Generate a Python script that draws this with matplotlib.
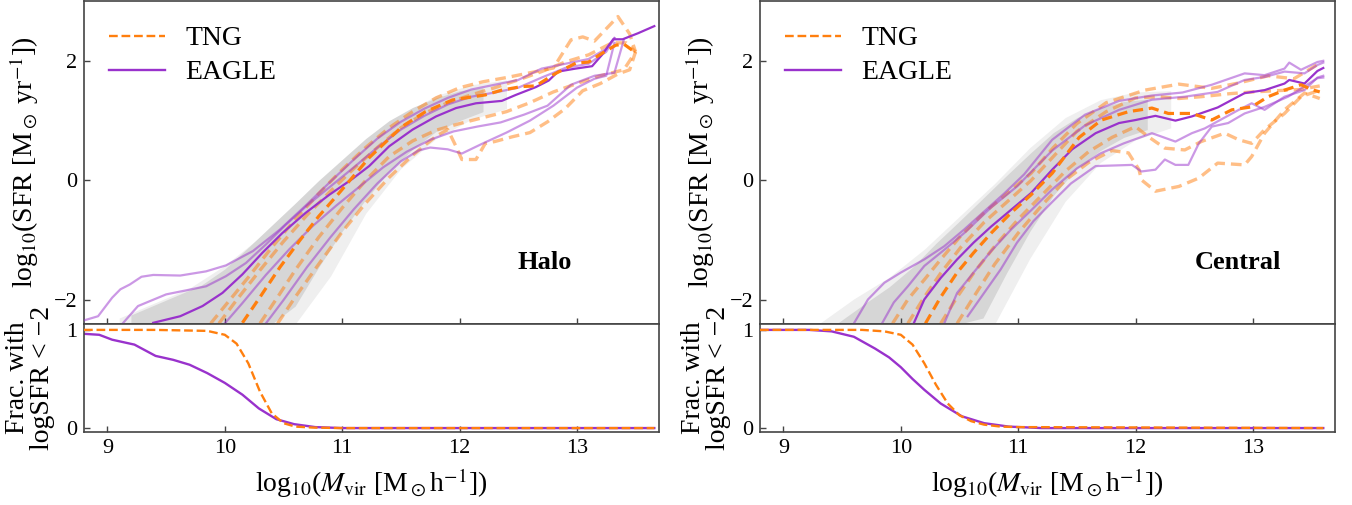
import matplotlib
matplotlib.use("Agg")
import matplotlib.pyplot as plt
from matplotlib.lines import Line2D

plt.rcParams["font.family"] = ["Liberation Serif", "DejaVu Serif"]
plt.rcParams["mathtext.fontset"] = "stix"

# ---------------- Halo panel ----------------
halo_eagle_med_x = [9.39, 9.62, 9.81, 9.98, 10.15, 10.32, 10.49, 10.69, 10.89, 11.09, 11.23, 11.40, 11.60, 11.80, 11.97, 12.14, 12.36, 12.48, 12.65, 12.76, 12.84, 12.99, 13.13, 13.21, 13.31, 13.39, 13.52, 13.66]
halo_eagle_med_y = [-2.38, -2.27, -2.10, -1.88, -1.57, -1.21, -0.88, -0.54, -0.24, 0.03, 0.24, 0.57, 0.85, 1.07, 1.21, 1.29, 1.33, 1.43, 1.56, 1.67, 1.82, 1.87, 1.91, 2.09, 2.36, 2.36, 2.46, 2.58]
halo_eagle_hi1_x = [9.13, 9.26, 9.50, 9.84, 10.01, 10.18, 10.35, 10.52, 10.70, 10.90, 11.10, 11.30, 11.50, 11.70, 11.90, 12.10, 12.30, 12.50, 12.70, 12.90, 13.10, 13.25, 13.32]
halo_eagle_hi1_y = [-2.39, -2.10, -1.905, -1.77, -1.60, -1.38, -1.07, -0.74, -0.42, -0.10, 0.22, 0.55, 0.85, 1.08, 1.27, 1.40, 1.47, 1.55, 1.72, 1.88, 1.95, 2.15, 2.38]
halo_eagle_hi2_x = [8.80, 8.92, 9.04, 9.11, 9.19, 9.29, 9.39, 9.62, 9.84, 10.01, 10.24, 10.47, 10.70, 10.90, 11.10, 11.30, 11.50, 11.70, 11.90, 12.10, 12.30, 12.50, 12.70, 12.90, 13.10, 13.25, 13.32]
halo_eagle_hi2_y = [-2.34, -2.27, -1.96, -1.82, -1.74, -1.61, -1.58, -1.59, -1.52, -1.42, -1.18, -0.82, -0.40, -0.02, 0.35, 0.70, 0.98, 1.20, 1.38, 1.52, 1.60, 1.68, 1.87, 1.95, 2.03, 2.20, 2.38]
halo_eagle_lo1_x = [10.0, 10.15, 10.35, 10.55, 10.75, 10.95, 11.15, 11.35, 11.55, 11.75, 11.95, 12.15, 12.35, 12.55, 12.75, 12.95, 13.15, 13.32, 13.40]
halo_eagle_lo1_y = [-2.39, -2.05, -1.58, -1.15, -0.76, -0.42, -0.10, 0.22, 0.48, 0.68, 0.82, 0.90, 0.97, 1.10, 1.25, 1.60, 1.75, 1.80, 2.35]
halo_eagle_lo2_x = [10.35, 10.5, 10.7, 10.9, 11.1, 11.3, 11.5, 11.65, 11.75, 11.9, 12.02, 12.2, 12.4, 12.6, 12.8, 13.0, 13.15, 13.25, 13.32]
halo_eagle_lo2_y = [-2.39, -2.0, -1.45, -0.95, -0.48, -0.05, 0.32, 0.50, 0.55, 0.52, 0.45, 0.62, 0.80, 1.00, 1.25, 1.55, 1.70, 1.75, 2.30]

halo_tng_med_x = [10.15, 10.30, 10.47, 10.64, 10.80, 10.97, 11.10, 11.23, 11.51, 11.71, 11.94, 12.22, 12.36, 12.53, 12.65, 12.81, 12.99, 13.10, 13.21, 13.33, 13.40, 13.47]
halo_tng_med_y = [-2.38, -1.95, -1.45, -1.00, -0.60, -0.22, 0.08, 0.38, 0.90, 1.15, 1.345, 1.43, 1.51, 1.57, 1.58, 1.78, 1.96, 1.98, 2.12, 2.26, 2.28, 2.18]
halo_tng_hi1_x = [9.95, 10.1, 10.3, 10.5, 10.7, 10.9, 11.1, 11.3, 11.5, 11.7, 11.9, 12.1, 12.3, 12.5, 12.7, 12.9, 13.1, 13.3, 13.42, 13.5]
halo_tng_hi1_y = [-2.39, -2.0, -1.50, -1.02, -0.58, -0.18, 0.20, 0.55, 0.88, 1.12, 1.30, 1.43, 1.55, 1.68, 1.82, 1.98, 2.10, 2.30, 2.30, 2.15]
halo_tng_hi2_x = [9.88, 10.0, 10.2, 10.4, 10.6, 10.8, 11.0, 11.2, 11.4, 11.6, 11.8, 12.0, 12.2, 12.4, 12.6, 12.8, 12.95, 13.05, 13.15, 13.35, 13.45, 13.5]
halo_tng_hi2_y = [-2.39, -2.1, -1.62, -1.12, -0.65, -0.22, 0.18, 0.55, 0.88, 1.15, 1.38, 1.55, 1.65, 1.72, 1.80, 1.88, 2.35, 2.40, 2.33, 2.74, 2.45, 2.15]
halo_tng_lo1_x = [10.3, 10.45, 10.6, 10.8, 11.0, 11.2, 11.4, 11.6, 11.8, 12.0, 12.2, 12.4, 12.6, 12.8, 13.0, 13.2, 13.4, 13.5]
halo_tng_lo1_y = [-2.39, -1.95, -1.5, -0.95, -0.46, 0.0, 0.40, 0.66, 0.84, 0.95, 1.05, 1.15, 1.30, 1.48, 1.62, 1.75, 1.85, 2.15]
halo_tng_lo2_x = [10.45, 10.6, 10.8, 11.0, 11.2, 11.4, 11.6, 11.8, 11.9, 11.97, 12.02, 12.14, 12.22, 12.3, 12.45, 12.6, 12.75, 12.9, 13.05, 13.2, 13.35, 13.45, 13.5]
halo_tng_lo2_y = [-2.39, -1.95, -1.40, -0.86, -0.38, 0.05, 0.42, 0.74, 0.85, 0.57, 0.35, 0.35, 0.62, 0.65, 0.73, 0.80, 0.98, 1.20, 1.50, 1.62, 1.78, 1.85, 2.15]

# dense part of the halo scatter and its thinner fringe
halo_cloud_x = [9.2, 9.5, 9.8, 10.0, 10.2, 10.4, 10.6, 10.8, 11.0, 11.2, 11.4, 11.6, 11.8, 12.0, 12.2]
halo_cloud_hi = [-2.25, -2.0, -1.75, -1.48, -1.12, -0.75, -0.38, 0.0, 0.35, 0.70, 1.0, 1.22, 1.38, 1.50, 1.55]
halo_cloud_lo = [-2.4, -2.4, -2.4, -2.4, -2.4, -2.4, -2.1, -1.45, -0.85, -0.32, 0.15, 0.52, 0.82, 1.0, 1.15]
halo_fringe_x = [9.1, 9.4, 9.7, 10.0, 10.3, 10.6, 10.9, 11.2, 11.5, 11.8, 12.1, 12.4]
halo_fringe_hi = [-2.3, -2.05, -1.8, -1.42, -0.95, -0.45, 0.05, 0.62, 1.08, 1.42, 1.6, 1.68]
halo_fringe_lo = [-2.4, -2.4, -2.4, -2.4, -2.4, -2.4, -1.6, -0.55, 0.2, 0.7, 1.02, 1.2]

halo_frac_tng_x = [8.8, 9.4, 9.85, 10.0, 10.1, 10.2, 10.3, 10.4, 10.5, 10.6, 10.75, 11.0, 13.66]
halo_frac_tng_y = [1.0, 1.0, 0.99, 0.95, 0.86, 0.66, 0.37, 0.15, 0.05, 0.015, 0.005, 0.0, 0.0]
halo_frac_eagle_x = [8.8, 8.93, 9.04, 9.23, 9.41, 9.56, 9.70, 9.85, 10.0, 10.15, 10.29, 10.44, 10.59, 10.77, 11.0, 13.66]
halo_frac_eagle_y = [0.96, 0.95, 0.90, 0.85, 0.735, 0.695, 0.645, 0.56, 0.46, 0.34, 0.20, 0.09, 0.04, 0.01, 0.0, 0.0]

# ---------------- Central panel ----------------
cen_eagle_med_x = [10.11, 10.20, 10.34, 10.48, 10.62, 10.77, 10.94, 11.11, 11.29, 11.46, 11.66, 11.86, 12.00, 12.17, 12.34, 12.48, 12.70, 12.93, 13.10, 13.27, 13.31, 13.44, 13.55, 13.60]
cen_eagle_med_y = [-2.39, -1.99, -1.63, -1.32, -1.04, -0.77, -0.49, -0.21, 0.18, 0.52, 0.79, 0.96, 1.01, 1.08, 1.00, 1.07, 1.22, 1.46, 1.51, 1.62, 1.68, 1.62, 1.83, 1.88]
cen_eagle_hi1_x = [9.84, 9.94, 10.06, 10.2, 10.37, 10.54, 10.77, 10.99, 11.29, 11.57, 11.86, 12.14, 12.42, 12.70, 12.93, 13.10, 13.27, 13.44, 13.55, 13.60]
cen_eagle_hi1_y = [-2.39, -2.04, -1.77, -1.43, -1.16, -0.88, -0.45, -0.10, 0.50, 0.92, 1.18, 1.35, 1.40, 1.48, 1.68, 1.73, 1.82, 1.79, 1.93, 1.97]
cen_eagle_hi2_x = [9.60, 9.72, 9.86, 10.0, 10.2, 10.37, 10.54, 10.71, 10.88, 11.05, 11.29, 11.57, 11.86, 12.14, 12.40, 12.65, 12.93, 13.10, 13.27, 13.31, 13.41, 13.55, 13.60]
cen_eagle_hi2_y = [-2.39, -1.99, -1.71, -1.54, -1.32, -1.10, -0.82, -0.52, -0.22, 0.10, 0.68, 1.10, 1.33, 1.42, 1.47, 1.60, 1.79, 1.76, 1.87, 1.97, 1.85, 1.98, 2.0]
cen_eagle_lo1_x = [10.37, 10.48, 10.62, 10.77, 10.94, 11.11, 11.29, 11.5, 11.7, 11.9, 12.14, 12.34, 12.48, 12.59, 12.88, 12.99, 13.10, 13.27, 13.44, 13.55, 13.60]
cen_eagle_lo1_y = [-2.39, -1.88, -1.54, -1.18, -0.82, -0.50, -0.15, 0.20, 0.45, 0.62, 0.79, 0.65, 0.79, 0.87, 1.18, 1.29, 1.18, 1.40, 1.51, 1.72, 1.75]
cen_eagle_lo2_x = [10.57, 10.71, 10.85, 10.99, 11.13, 11.28, 11.45, 11.66, 11.97, 12.05, 12.17, 12.25, 12.34, 12.45, 12.54, 12.65, 12.79, 12.93, 13.10, 13.30, 13.55, 13.60]
cen_eagle_lo2_y = [-2.27, -1.88, -1.49, -1.04, -0.68, -0.38, -0.05, 0.24, 0.26, 0.15, 0.18, 0.35, 0.26, 0.26, 0.62, 0.90, 0.96, 1.12, 1.23, 1.40, 1.71, 1.72]

cen_tng_med_x = [10.21, 10.34, 10.48, 10.62, 10.77, 10.94, 11.11, 11.29, 11.52, 11.71, 11.94, 12.14, 12.28, 12.48, 12.65, 12.82, 12.99, 13.13, 13.27, 13.41, 13.50, 13.57]
cen_tng_med_y = [-2.39, -1.95, -1.54, -1.21, -0.88, -0.54, -0.24, 0.12, 0.72, 1.01, 1.15, 1.21, 1.12, 1.12, 1.01, 1.18, 1.23, 1.40, 1.51, 1.60, 1.52, 1.48]
cen_tng_hi1_x = [10.06, 10.2, 10.34, 10.51, 10.71, 10.91, 11.11, 11.3, 11.5, 11.75, 12.0, 12.2, 12.37, 12.56, 12.8, 13.0, 13.2, 13.4, 13.57]
cen_tng_hi1_y = [-2.39, -1.95, -1.55, -1.12, -0.70, -0.35, 0.0, 0.40, 0.82, 1.15, 1.38, 1.40, 1.37, 1.40, 1.45, 1.48, 1.50, 1.52, 1.58]
cen_tng_hi2_x = [9.93, 10.06, 10.2, 10.34, 10.51, 10.71, 10.91, 11.11, 11.3, 11.5, 11.75, 12.08, 12.37, 12.65, 12.88, 13.13, 13.35, 13.57]
cen_tng_hi2_y = [-2.39, -1.99, -1.66, -1.32, -0.93, -0.54, -0.21, 0.12, 0.55, 0.95, 1.30, 1.51, 1.61, 1.54, 1.63, 1.75, 1.70, 1.96]
cen_tng_lo1_x = [10.34, 10.48, 10.62, 10.8, 11.0, 11.2, 11.4, 11.6, 11.8, 12.0, 12.11, 12.25, 12.42, 12.56, 12.76, 12.88, 12.99, 13.10, 13.27, 13.41, 13.57]
cen_tng_lo1_y = [-2.39, -1.95, -1.55, -1.10, -0.65, -0.25, 0.15, 0.48, 0.72, 0.90, 0.73, 0.54, 0.51, 0.65, 0.79, 0.68, 0.62, 0.85, 1.12, 1.40, 1.51]
cen_tng_lo2_x = [10.48, 10.62, 10.8, 11.0, 11.2, 11.4, 11.6, 11.8, 11.94, 12.03, 12.05, 12.17, 12.37, 12.54, 12.70, 12.93, 12.99, 13.10, 13.27, 13.44, 13.57]
cen_tng_lo2_y = [-2.39, -1.95, -1.40, -0.88, -0.42, 0.0, 0.30, 0.50, 0.46, 0.18, 0.01, -0.18, -0.10, 0.04, 0.29, 0.26, 0.40, 0.79, 1.18, 1.46, 1.37]

cen_cloud_x = [9.45, 9.7, 9.9, 10.1, 10.3, 10.5, 10.7, 10.9, 11.1, 11.3, 11.5, 11.7, 11.9, 12.1]
cen_cloud_hi = [-2.4, -2.05, -1.78, -1.45, -1.05, -0.68, -0.3, 0.08, 0.45, 0.80, 1.05, 1.22, 1.32, 1.36]
cen_cloud_lo = [-2.4, -2.4, -2.4, -2.4, -2.4, -2.4, -2.3, -1.55, -0.85, -0.25, 0.2, 0.5, 0.72, 0.85]
cen_fringe_x = [9.3, 9.6, 9.9, 10.2, 10.5, 10.8, 11.1, 11.4, 11.7, 12.0, 12.3]
cen_fringe_hi = [-2.4, -1.98, -1.62, -1.15, -0.6, -0.05, 0.55, 1.05, 1.35, 1.48, 1.5]
cen_fringe_lo = [-2.4, -2.4, -2.4, -2.4, -2.4, -2.4, -1.3, -0.35, 0.3, 0.68, 0.88]

cen_frac_tng_x = [8.8, 9.67, 9.86, 10.0, 10.1, 10.2, 10.3, 10.4, 10.5, 10.6, 10.71, 10.85, 11.0, 13.6]
cen_frac_tng_y = [1.0, 1.0, 0.985, 0.95, 0.85, 0.66, 0.44, 0.25, 0.13, 0.07, 0.035, 0.015, 0.01, 0.0]
cen_frac_eagle_x = [8.8, 9.22, 9.41, 9.60, 9.78, 9.9, 10.0, 10.1, 10.2, 10.34, 10.52, 10.71, 10.92, 11.2, 13.6]
cen_frac_eagle_y = [1.0, 1.0, 0.985, 0.93, 0.81, 0.72, 0.62, 0.50, 0.39, 0.25, 0.12, 0.05, 0.015, 0.0, 0.0]

TNG_C = "#ff7f0e"
EAGLE_C = "#9932cc"
SPINE_C = "#444444"

panels = [
    dict(name="Halo", lx=12.73,
         eagle=[(halo_eagle_hi2_x, halo_eagle_hi2_y), (halo_eagle_hi1_x, halo_eagle_hi1_y),
                (halo_eagle_lo1_x, halo_eagle_lo1_y), (halo_eagle_lo2_x, halo_eagle_lo2_y)],
         eagle_med=(halo_eagle_med_x, halo_eagle_med_y),
         tng=[(halo_tng_hi2_x, halo_tng_hi2_y), (halo_tng_hi1_x, halo_tng_hi1_y),
              (halo_tng_lo1_x, halo_tng_lo1_y), (halo_tng_lo2_x, halo_tng_lo2_y)],
         tng_med=(halo_tng_med_x, halo_tng_med_y),
         cloud=(halo_cloud_x, halo_cloud_lo, halo_cloud_hi),
         fringe=(halo_fringe_x, halo_fringe_lo, halo_fringe_hi),
         frac_tng=(halo_frac_tng_x, halo_frac_tng_y),
         frac_eagle=(halo_frac_eagle_x, halo_frac_eagle_y),
         left=84),
    dict(name="Central", lx=12.87,
         eagle=[(cen_eagle_hi2_x, cen_eagle_hi2_y), (cen_eagle_hi1_x, cen_eagle_hi1_y),
                (cen_eagle_lo1_x, cen_eagle_lo1_y), (cen_eagle_lo2_x, cen_eagle_lo2_y)],
         eagle_med=(cen_eagle_med_x, cen_eagle_med_y),
         tng=[(cen_tng_hi2_x, cen_tng_hi2_y), (cen_tng_hi1_x, cen_tng_hi1_y),
              (cen_tng_lo1_x, cen_tng_lo1_y), (cen_tng_lo2_x, cen_tng_lo2_y)],
         tng_med=(cen_tng_med_x, cen_tng_med_y),
         cloud=(cen_cloud_x, cen_cloud_lo, cen_cloud_hi),
         fringe=(cen_fringe_x, cen_fringe_lo, cen_fringe_hi),
         frac_tng=(cen_frac_tng_x, cen_frac_tng_y),
         frac_eagle=(cen_frac_eagle_x, cen_frac_eagle_y),
         left=760),
]

W, H = 1352, 505
fig = plt.figure(figsize=(W / 100, H / 100), dpi=100)


def style(ax):
    for s in ax.spines.values():
        s.set_color(SPINE_C)
        s.set_linewidth(1.2)
    ax.tick_params(direction="in", length=4, width=1, color=SPINE_C,
                   labelsize=16, pad=5, top=False, right=False)


for p in panels:
    l = p["left"] / W
    w = 575 / W
    ax = fig.add_axes([l, 1 - 324 / H, w, 323 / H])
    axf = fig.add_axes([l, 1 - 432 / H, w, 108 / H], sharex=ax)

    fx, flo, fhi = p["fringe"]
    ax.fill_between(fx, flo, fhi, color="#efefef", lw=0, zorder=1)
    cx, clo, chi = p["cloud"]
    ax.fill_between(cx, clo, chi, color="#d6d6d6", lw=0, zorder=1)

    for (x, y) in p["tng"]:
        ax.plot(x, y, color=TNG_C, alpha=0.5, lw=2.4, dashes=(3.2, 1.8), zorder=3)
    for (x, y) in p["eagle"]:
        ax.plot(x, y, color=EAGLE_C, alpha=0.5, lw=1.6, zorder=3)
    ax.plot(*p["eagle_med"], color=EAGLE_C, lw=1.6, zorder=4)
    ax.plot(*p["tng_med"], color=TNG_C, lw=2.3, dashes=(3.2, 1.8), zorder=5)

    ax.set_xlim(8.8, 13.7)
    ax.set_ylim(-2.4, 3.0)
    ax.set_yticks([-2, 0, 2])
    ax.set_xticks([9, 10, 11, 12, 13])
    ax.tick_params(labelbottom=False)
    style(ax)
    ax.set_ylabel(r"log$_{10}$(SFR [M$_\odot$ yr$^{-1}$])", fontsize=20)
    ax.yaxis.set_label_coords(-0.075, 0.5)
    ax.text(p["lx"], -1.37, p["name"], fontsize=19, fontweight="bold",
            ha="center", va="center")

    handles = [Line2D([], [], color=TNG_C, ls="--", lw=1.7),
               Line2D([], [], color=EAGLE_C, lw=1.7)]
    ax.legend(handles, ["TNG", "EAGLE"], loc="upper left", frameon=False,
              fontsize=20, handlelength=2.0, handletextpad=0.75,
              labelspacing=0.3, borderaxespad=0.5)

    axf.plot(*p["frac_tng"], color=TNG_C, lw=1.7, ls="--", zorder=3)
    axf.plot(*p["frac_eagle"], color=EAGLE_C, lw=1.7, zorder=2)
    axf.set_ylim(-0.04, 1.06)
    axf.set_yticks([0, 1])
    style(axf)
    axf.set_ylabel("Frac. with\nlogSFR < \u22122", fontsize=20, linespacing=1.0)
    axf.yaxis.set_label_coords(-0.05, 0.5)
    axf.set_xlabel(r"log$_{10}$($M_{\rm vir}$ [M$_\odot$h$^{-1}$])", fontsize=20,
                   labelpad=6)

fig.savefig("out.png", dpi=100)
